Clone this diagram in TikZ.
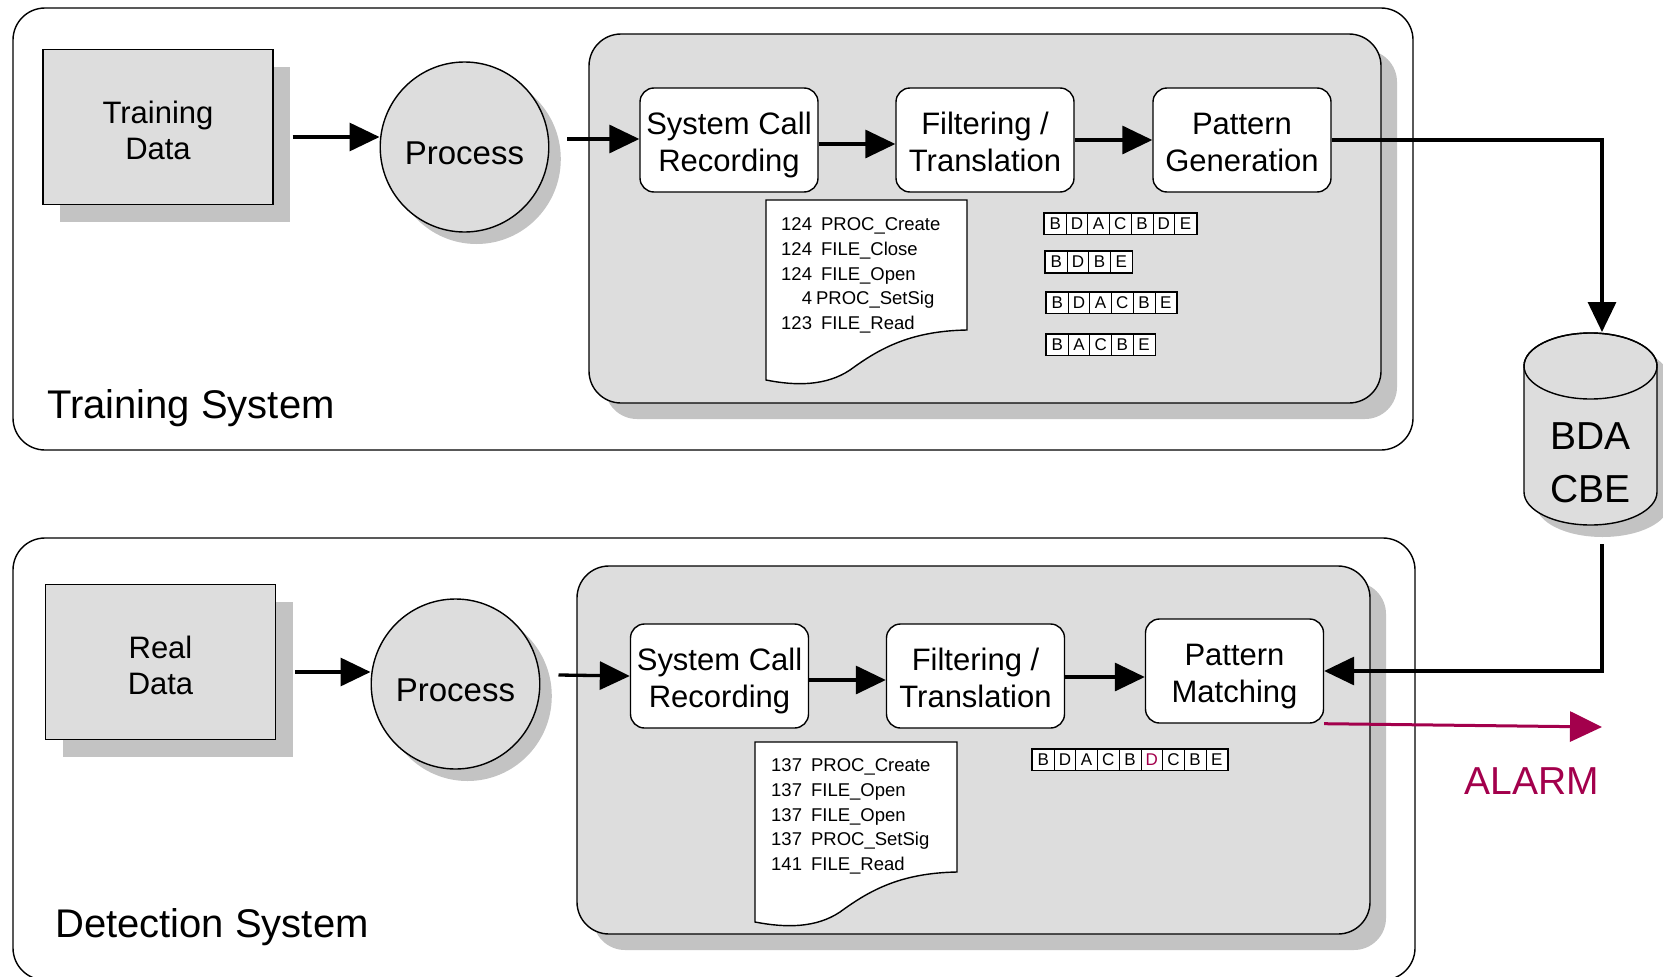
\documentclass[tikz,border=0pt]{standalone}
\usepackage{fontspec}
\setmainfont{Liberation Sans}
\usetikzlibrary{arrows.meta,calc,positioning,shadows,shapes.geometric}

\definecolor{boxgray}{HTML}{DDDDDD}
\definecolor{shadegray}{HTML}{C3C3C3}
\definecolor{alarmred}{HTML}{A3004C}

\tikzset{
  softshadow/.style={drop shadow={shadow xshift=#1, shadow yshift=-#1, fill=shadegray, opacity=1}},
  sysframe/.style={draw, line width=1.4pt, rounded corners=32pt, fill=white},
  panel/.style={draw, line width=1.4pt, rounded corners=32pt, fill=boxgray, softshadow=16pt},
  databox/.style={draw, line width=1.4pt, fill=boxgray, minimum width=230pt, minimum height=155pt,
    align=center, text height=65pt, text depth=0pt, font=\fontsize{31}{36}\selectfont,
    softshadow=17pt},
  procnode/.style={ellipse, draw, line width=1.4pt, fill=boxgray, minimum width=164pt,
    minimum height=170pt, inner sep=0pt, text height=35pt, text depth=0pt,
    font=\fontsize{33}{36}\selectfont, softshadow=12pt},
  stepbox/.style={draw, line width=1.4pt, fill=white, rounded corners=14pt, minimum width=178pt,
    minimum height=104pt, inner sep=0pt, align=center, text height=63pt, text depth=0pt,
    font=\fontsize{31}{37}\selectfont},
  flow/.style={line width=3.3pt, -{Triangle[length=30pt,width=28pt]}},
  alarmflow/.style={color=alarmred, line width=3pt, -{Triangle[length=32pt,width=30pt]}},
  paper/.style={draw, line width=1.4pt, fill=white},
  tracetext/.style={anchor=north west, inner sep=0pt, font=\fontsize{18.5}{24.6}\selectfont},
  seqcell/.style={draw, fill=white, line width=0.8pt, anchor=west, minimum width=21.7pt,
    minimum height=21pt, inner sep=0pt, font=\fontsize{17}{17}\selectfont},
  seqframe/.style={draw, line width=1.6pt},
  systitle/.style={anchor=base west, inner sep=0pt, font=\fontsize{40}{40}\selectfont},
  dblabel/.style={align=center, inner sep=0pt, font=\fontsize{39}{53}\selectfont},
  alarmlabel/.style={text=alarmred, inner sep=0pt, font=\fontsize{39}{40}\selectfont}
}

% one row of letter cells: name, x, y, number of cells, letters
\newcommand{\seqstrip}[5]{%
  \foreach \c [count=\i] in {#5}
    \node[seqcell] (#1-\i) at ({#2+(\i-1)*21.7},#3) {\c};
  \draw[seqframe] (#1-1.north west) rectangle (#1-#4.south east);
}

\begin{document}
\begin{tikzpicture}[x=1pt,y=-1pt]
  \useasboundingbox (0,0) rectangle (1663,977);

  % system frames and grey panels
  \draw[sysframe] (13,8) rectangle (1413,450);
  \draw[sysframe] (13,538) rectangle (1415,980);
  \draw[panel] (589,34) rectangle (1381,403);
  \draw[panel] (577,566) rectangle (1370,934);

  % training system
  \node[databox] (tdata) at (158,127) {Training\\Data};
  \node[procnode] (tproc) at (464.5,147) {Process};
  \node[stepbox] (tsys) at (729,140) {System Call\\Recording};
  \node[stepbox] (tfilt) at (985,140) {Filtering /\\Translation};
  \node[stepbox] (tpat) at (1242,140) {Pattern\\Generation};

  \draw[paper] (766,200) -- (967,200) -- (967,330)
    .. controls (911,331) and (880,348) .. (850,370)
    .. controls (826,386) and (796,386) .. (766,380) -- cycle;
  \node[tracetext] (ttrace) at (781,213.4) {\begin{tabular}{@{}r@{\hspace{9pt}}l@{}}
    124 & PROC\_Create\\
    124 & FILE\_Close\\
    124 & FILE\_Open\\
    4 & \hspace{-5pt}PROC\_SetSig\\
    123 & FILE\_Read
  \end{tabular}};

  \seqstrip{ta}{1044}{223.5}{7}{B,D,A,C,B,D,E}
  \seqstrip{tb}{1045}{262}{4}{B,D,B,E}
  \seqstrip{tc}{1046}{302.5}{6}{B,D,A,C,B,E}
  \seqstrip{td}{1046}{344.5}{5}{B,A,C,B,E}

  \node[systitle] (ttitle) at (47,418) {Training System};

  % detection system
  \node[databox] (rdata) at (160.5,662) {Real\\Data};
  \node[procnode] (dproc) at (455.5,684) {Process};
  \node[stepbox] (dsys) at (719.5,676) {System Call\\Recording};
  \node[stepbox] (dfilt) at (975.5,676) {Filtering /\\Translation};
  \node[stepbox] (dpat) at (1234.5,671) {Pattern\\Matching};

  \draw[paper] (755,742) -- (957,742) -- (957,872)
    .. controls (901,873) and (870,890) .. (840,912)
    .. controls (816,928) and (786,928) .. (755,922) -- cycle;
  \node[tracetext] (dtrace) at (771,754.4) {\begin{tabular}{@{}r@{\hspace{9pt}}l@{}}
    137 & PROC\_Create\\
    137 & FILE\_Open\\
    137 & FILE\_Open\\
    137 & PROC\_SetSig\\
    141 & FILE\_Read
  \end{tabular}};

  \seqstrip{da}{1032}{759.5}{9}{B,D,A,C,B,{\color{alarmred}D},C,B,E}

  \node[systitle] (dtitle) at (55,937) {Detection System};

  % behaviour database
  \fill[shadegray, shift={(12,12)}] (1524,366) -- (1524,492)
    arc[start angle=180, end angle=0, x radius=66.5, y radius=33] -- (1657,366)
    arc[start angle=0, end angle=-180, x radius=66.5, y radius=33] -- cycle;
  \draw[fill=boxgray, line width=1.4pt] (1524,366) -- (1524,492)
    arc[start angle=180, end angle=0, x radius=66.5, y radius=33] -- (1657,366)
    arc[start angle=0, end angle=-180, x radius=66.5, y radius=33] -- cycle;
  \draw[line width=1.4pt] (1590.5,366) ellipse [x radius=66.5, y radius=33];
  \node[dblabel] (db) at (1590.5,463) {BDA\\CBE};
  \coordinate (dbin) at (1602,332);
  \coordinate (dbout) at (1602,544);

  % connectors
  \draw[flow] ([xshift=19pt,yshift=-10pt]tdata.east) -- ([yshift=10pt]tproc.west);
  \draw[flow] ([xshift=18pt,yshift=8pt]tproc.east) -- ([yshift=1pt]tsys.west);
  \draw[flow] ([yshift=-4pt]tsys.east) -- ([yshift=-4pt]tfilt.west);
  \draw[flow] (tfilt.east) -- (tpat.west);
  \draw[flow] (tpat.east) -| (dbin);

  \draw[flow] ([xshift=19pt,yshift=-10pt]rdata.east) -- ([yshift=12pt]dproc.west);
  \draw[flow] ([xshift=18pt,yshift=9pt]dproc.east) -- (dsys.west);
  \draw[flow] ([yshift=-4pt]dsys.east) -- ([yshift=-4pt]dfilt.west);
  \draw[flow] ([yshift=-1pt]dfilt.east) -- ([yshift=-6pt]dpat.west);
  \draw[flow] (dbout) |- (dpat.east);

  % alarm output
  \node[alarmlabel] (alarm) at (1532,781) {ALARM};
  \coordinate (alarmtip) at (1602,727);
  \draw[alarmflow] (dpat.south east) -- (alarmtip);
\end{tikzpicture}
\end{document}
